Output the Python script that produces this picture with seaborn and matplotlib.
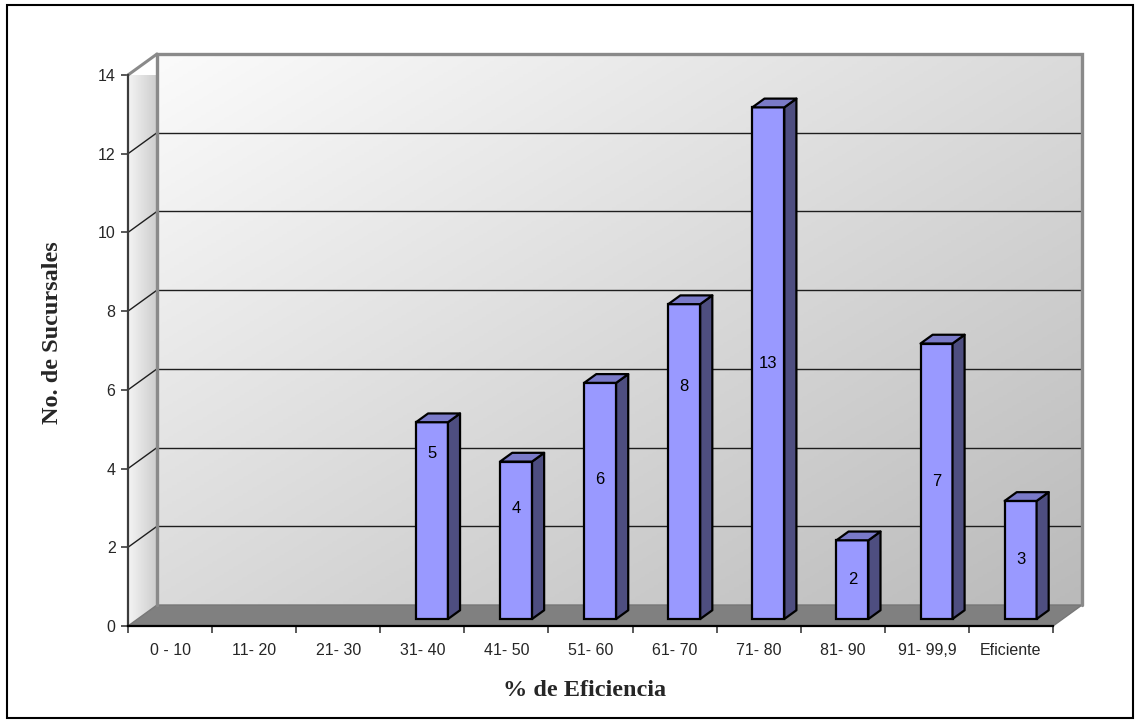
import numpy as np
import pandas as pd
import matplotlib
matplotlib.use("Agg")
import matplotlib.pyplot as plt
from matplotlib.patches import Polygon, Rectangle
from matplotlib.colors import LinearSegmentedColormap
import seaborn as sns

# ---- data -------------------------------------------------------------
categories = ["0 - 10", "11- 20", "21- 30", "31- 40", "41- 50", "51- 60",
              "61- 70", "71- 80", "81- 90", "91- 99,9", "Eficiente"]
sucursales = [0, 0, 0, 5, 4, 6, 8, 13, 2, 7, 3]
y_ticks = [0, 2, 4, 6, 8, 10, 12, 14]
# where each value label sits along its column (fraction of its height)
label_frac = [0.5, 0.5, 0.5, 0.84, 0.70, 0.59, 0.74, 0.5, 0.5, 0.5, 0.5]

# ---- style ------------------------------------------------------------
sns.set_theme(style="white")
plt.rcParams["font.family"] = ["Liberation Sans", "DejaVu Sans"]
TITLE_FONT = dict(family=["Liberation Serif", "DejaVu Serif"], weight="bold", size=17.5)

FRONT = "#9999FF"
TOP = "#7A7AC8"
SIDE = "#4E4E80"
FLOOR = "#808080"
FRAME = "#8A8A8A"

W, H, DPI = 1135, 721, 100
fig = plt.figure(figsize=(W / DPI, H / DPI), dpi=DPI)
fig.patch.set_facecolor("white")

# front plane of the plot area (pixels)
x0, x1, ytop, ybot = 128, 1053, 75, 626
ax = fig.add_axes([x0 / W, 1 - ybot / H, (x1 - x0) / W, (ybot - ytop) / H])
ax.patch.set_visible(False)

df = pd.DataFrame({"rango": categories, "n": sucursales})
sns.barplot(data=df, x="rango", y="n", order=categories, color=FRONT,
            saturation=1, width=0.38, edgecolor="black", linewidth=1.6,
            ax=ax, zorder=5)
bars = list(ax.patches)

n_cat = len(categories)
ymax = y_ticks[-1]
xl, xr = -0.5, n_cat - 0.5

# depth of the 3-D box in data units (29 px right, 21 px up)
DX = 29 / ((x1 - x0) / n_cat)
DY = 21 / ((ybot - ytop) / ymax)

# ---- back wall with diagonal shading --------------------------------
u = np.linspace(0, 1, 400)[None, :]
v = np.linspace(0, 1, 200)[:, None]
wall_cmap = LinearSegmentedColormap.from_list("wall", ["#fbfbfb", "#bababa"])
im = ax.imshow((u + v) / 2, cmap=wall_cmap, vmin=0, vmax=1,
               extent=[xl + DX, xr + DX, DY, ymax + DY], origin="upper",
               aspect="auto", zorder=0, interpolation="bilinear")
im.set_clip_on(False)

# ---- left side wall -------------------------------------------------
side_poly = Polygon([(xl, 0), (xl + DX, DY), (xl + DX, ymax + DY), (xl, ymax)],
                    closed=True, facecolor="none", edgecolor="none")
ax.add_patch(side_poly)
side_cmap = LinearSegmentedColormap.from_list("side", ["#f4f4f4", "#cdcdcd"])
im2 = ax.imshow(np.linspace(0, 1, 100)[None, :], cmap=side_cmap, vmin=0, vmax=1,
                extent=[xl, xl + DX, 0, ymax + DY], origin="upper",
                aspect="auto", zorder=0.5, interpolation="bilinear")
im2.set_clip_path(side_poly)
im2.set_clip_box(None)

# ---- floor ----------------------------------------------------------
ax.add_patch(Polygon([(xl, 0), (xr, 0), (xr + DX, DY), (xl + DX, DY)], closed=True,
                     facecolor=FLOOR, edgecolor="#777777", lw=1,
                     zorder=1, clip_on=False))

# ---- gridlines on the walls -----------------------------------------
for t in y_ticks[1:-1]:
    ax.plot([xl + DX, xr + DX], [t + DY, t + DY], color="#1e1e1e", lw=1,
            zorder=2, clip_on=False)
    ax.plot([xl, xl + DX], [t, t + DY], color="#1e1e1e", lw=1,
            zorder=2, clip_on=False)

# wall outlines
ax.plot([xl + DX, xl + DX, xr + DX, xr + DX], [DY, ymax + DY, ymax + DY, DY],
        color=FRAME, lw=2.4, zorder=2.5, clip_on=False, solid_joinstyle="miter")
ax.plot([xl, xl + DX], [ymax, ymax + DY], color=FRAME, lw=2.2,
        zorder=2.5, clip_on=False)

# ---- 3-D columns ----------------------------------------------------
f0, f1 = 1 / 3, 0.75           # front and back depth of each column
d = f1 - f0
for p, val, frac in zip(bars, sucursales, label_frac):
    h = p.get_height()
    if h <= 0:
        p.set_visible(False)
        continue
    x = p.get_x() + f0 * DX
    y = f0 * DY
    w = p.get_width()
    p.set_x(x)
    p.set_y(y)
    p.set_clip_on(False)
    top = Polygon([(x, y + h), (x + w, y + h), (x + w + d * DX, y + h + d * DY),
                   (x + d * DX, y + h + d * DY)], closed=True, facecolor=TOP,
                  edgecolor="black", lw=1.6, zorder=5, clip_on=False,
                  joinstyle="round")
    side = Polygon([(x + w, y), (x + w + d * DX, y + d * DY),
                    (x + w + d * DX, y + h + d * DY), (x + w, y + h)], closed=True,
                   facecolor=SIDE, edgecolor="black", lw=1.6, zorder=5,
                   clip_on=False, joinstyle="round")
    ax.add_patch(side)
    ax.add_patch(top)
    ax.text(x + w / 2, y + h * frac, f"{val:g}", ha="center", va="center",
            fontsize=12, color="black", zorder=7)

# ---- axes -----------------------------------------------------------
ax.set_xlim(xl, xr)
ax.set_ylim(0, ymax)
for s in ("top", "right"):
    ax.spines[s].set_visible(False)
ax.spines["left"].set_color("#3c3c3c")
ax.spines["left"].set_linewidth(1.6)
ax.spines["bottom"].set_color("black")
ax.spines["bottom"].set_linewidth(1.6)

ax.set_yticks(y_ticks)
ax.set_yticklabels([str(t) for t in y_ticks])
ax.tick_params(axis="y", which="major", left=True, direction="out", length=5,
               width=1.2, color="#3c3c3c", labelsize=11.5, pad=4)

ax.set_xticks(range(n_cat))
ax.set_xticklabels(categories)
ax.set_xticks(np.arange(xl, xr + 0.01, 1), minor=True)
ax.tick_params(axis="x", which="major", bottom=False, length=0, labelsize=11.5, pad=12)
ax.tick_params(axis="x", which="minor", bottom=True, direction="out", length=5,
               width=1.2, color="#3c3c3c")

ax.set_xlabel("")
ax.set_ylabel("")
ax.text((585 - x0) / (x1 - x0), (ybot - 690) / (ybot - ytop), "% de Eficiencia",
        transform=ax.transAxes, ha="center", va="center", **TITLE_FONT)
ax.text((53 - x0) / (x1 - x0), (ybot - 333) / (ybot - ytop), "No. de Sucursales",
        transform=ax.transAxes, ha="center", va="center", rotation=90, **TITLE_FONT)

# chart border
fig.add_artist(Rectangle((7 / W, 1 - 718 / H), (1133 - 7) / W, (718 - 5) / H,
                         transform=fig.transFigure, fill=False,
                         edgecolor="black", lw=1.5))

fig.savefig("out.png", dpi=DPI)
